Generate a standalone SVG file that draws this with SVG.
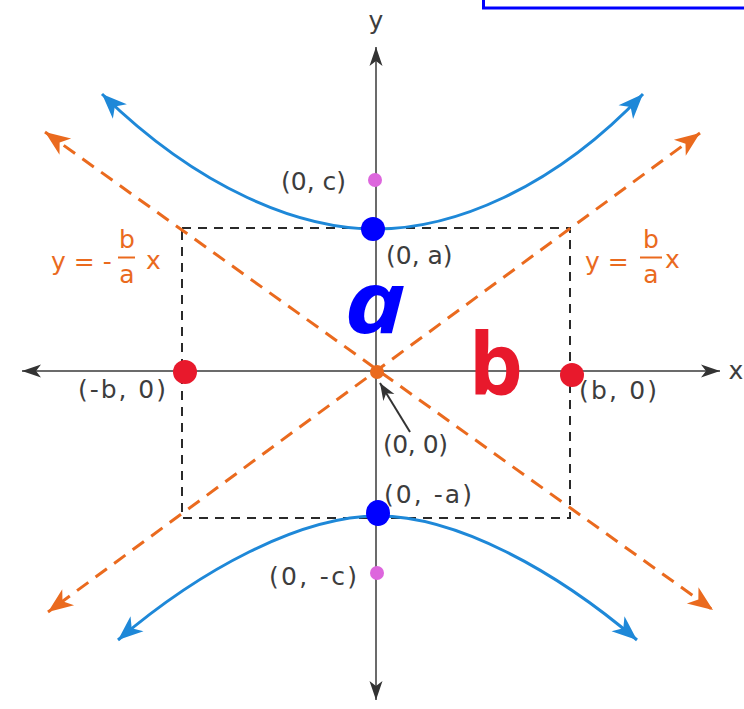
<svg xmlns="http://www.w3.org/2000/svg" width="744" height="709" viewBox="0 0 744 709">
<style>
.axis{stroke:#6b6b6b;stroke-width:2;fill:none}
.asym{stroke:#ea6a1e;stroke-width:3;stroke-dasharray:14 9;fill:none}
.hyp{stroke:#1e88d8;stroke-width:3;fill:none}
.box{stroke:#2a2a2a;stroke-width:2;stroke-dasharray:9 7;fill:none}
.lbl{font-family:"DejaVu Sans","Liberation Sans",sans-serif;font-size:25px;fill:#3d3d3d}
.eq{font-family:"DejaVu Sans","Liberation Sans",sans-serif;font-size:25px;fill:#ea6a1e}
.hand{font-family:"Open Sans","DejaVu Sans",sans-serif;font-weight:bold}
</style>
<defs>
<marker id="ax" viewBox="-20 -8 22 16" markerWidth="22" markerHeight="16" refX="0" refY="0" orient="auto-start-reverse" markerUnits="userSpaceOnUse">
<path d="M0,0 L-19,-6.5 L-14,0 L-19,6.5 Z" fill="#333"/>
</marker>
<marker id="ao" viewBox="-26 -12 28 24" markerWidth="28" markerHeight="24" refX="0" refY="0" orient="auto-start-reverse" markerUnits="userSpaceOnUse">
<path d="M0,0 L-25,-10 L-18,0 L-25,10 Z" fill="#ea6a1e"/>
</marker>
<marker id="ab" viewBox="-26 -12 28 24" markerWidth="28" markerHeight="24" refX="0" refY="0" orient="auto-start-reverse" markerUnits="userSpaceOnUse">
<path d="M0,0 L-25,-10 L-18,0 L-25,10 Z" fill="#1e88d8"/>
</marker>
<marker id="ak" viewBox="-20 -8 22 16" markerWidth="22" markerHeight="16" refX="0" refY="0" orient="auto" markerUnits="userSpaceOnUse">
<path d="M0,0 L-17,-6.5 L-12,0 L-17,6.5 Z" fill="#333"/>
</marker>
</defs>
<rect x="0" y="0" width="744" height="709" fill="#ffffff"/>
<rect x="483.5" y="-20" width="280" height="28" fill="none" stroke="#0000ff" stroke-width="3"/>
<g id="connectors">
<line id="x-axis" class="axis" x1="22" y1="371" x2="720" y2="371" marker-start="url(#ax)" marker-end="url(#ax)"/>
<line id="y-axis" class="axis" x1="376" y1="47" x2="376" y2="700" marker-start="url(#ax)" marker-end="url(#ax)"/>
<rect id="box" class="box" x="182" y="228" width="388" height="290"/>
<line id="asym-neg" class="asym" x1="45" y1="132" x2="713" y2="610" marker-start="url(#ao)" marker-end="url(#ao)"/>
<line id="asym-pos" class="asym" x1="700" y1="133" x2="48" y2="612" marker-start="url(#ao)" marker-end="url(#ao)"/>
<path id="hyp-upper" class="hyp" d="M102,94 C200,190 300,229 376,229 C452,229 552,190 643,94" marker-start="url(#ab)" marker-end="url(#ab)"/>
<path id="hyp-lower" class="hyp" d="M118,640 C200,570 300,516 378,516 C456,516 555,570 637,640" marker-start="url(#ab)" marker-end="url(#ab)"/>
<line id="origin-pointer" x1="410" y1="432" x2="380" y2="383" stroke="#333" stroke-width="2" marker-end="url(#ak)"/>
</g>
<g id="axis-labels">
<text class="lbl" x="376" y="29" text-anchor="middle" font-size="26">y</text>
<text class="lbl" x="736" y="379" text-anchor="middle" font-size="26">x</text>
</g>
<g id="eq-left">
<text class="eq" x="51" y="270">y = -</text>
<text class="eq" x="127" y="248" text-anchor="middle" font-size="23">b</text>
<line x1="118" y1="257.5" x2="135" y2="257.5" stroke="#ea6a1e" stroke-width="2"/>
<text class="eq" x="127" y="283" text-anchor="middle" font-size="23">a</text>
<text class="eq" x="146" y="269">x</text>
</g>
<g id="eq-right">
<text class="eq" x="585" y="270">y =</text>
<text class="eq" x="651" y="248" text-anchor="middle" font-size="23">b</text>
<line x1="640" y1="257.5" x2="662" y2="257.5" stroke="#ea6a1e" stroke-width="2"/>
<text class="eq" x="651" y="283" text-anchor="middle" font-size="23">a</text>
<text class="eq" x="665" y="268">x</text>
</g>
<g id="point-c">
<circle cx="375" cy="180" r="7" fill="#dd66dd"/>
<text class="lbl" x="281" y="190">(0, c)</text>
</g>
<g id="point-a">
<circle cx="373" cy="229" r="12" fill="#0000ff"/>
<text class="lbl" x="386" y="264">(0, a)</text>
</g>
<g id="point-neg-b">
<circle cx="185" cy="372" r="12" fill="#e8192c"/>
<text class="lbl" x="78" y="398" textLength="88">(-b, 0)</text>
</g>
<g id="point-b">
<circle cx="572" cy="375" r="12" fill="#e8192c"/>
<text class="lbl" x="579" y="399" textLength="78">(b, 0)</text>
</g>
<g id="point-origin">
<circle cx="377" cy="372" r="7" fill="#ea6a1e"/>
<text class="lbl" x="383" y="453" font-size="21" textLength="65">(0, 0)</text>
</g>
<g id="point-neg-a">
<ellipse cx="378" cy="513" rx="12" ry="13" fill="#0000ff"/>
<text class="lbl" x="384" y="503" textLength="88">(0, -a)</text>
</g>
<g id="point-neg-c">
<circle cx="377" cy="573" r="7" fill="#dd66dd"/>
<text class="lbl" x="269" y="585" textLength="88">(0, -c)</text>
</g>
<g id="hand-a">
<text class="hand" transform="translate(375,333) scale(1.2,1)" x="0" y="0" text-anchor="middle" font-size="86" font-style="italic" fill="#0000ff">a</text>
</g>
<g id="hand-b">
<text class="hand" x="496" y="395" text-anchor="middle" font-size="86" fill="#e8192c">b</text>
</g>
</svg>
